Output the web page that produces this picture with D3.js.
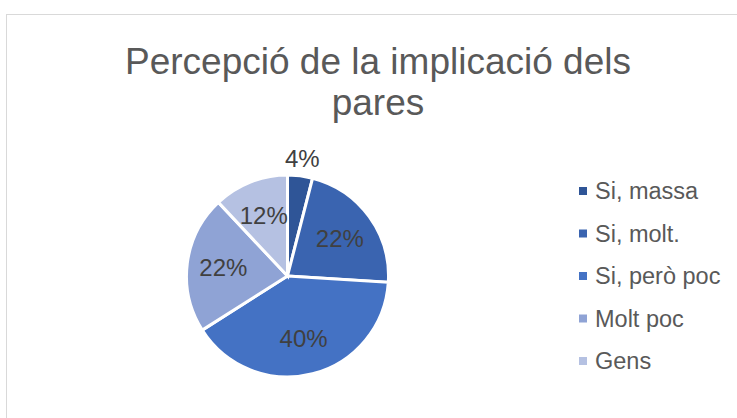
<!DOCTYPE html>
<html>
<head>
<meta charset="utf-8">
<script src="https://cdn.jsdelivr.net/npm/d3@7"></script>
<style>
  body { margin: 0; background: #fff; }
  svg { display: block; font-family: "Liberation Sans", Arial, sans-serif; }
</style>
</head>
<body>
<svg id="chart"></svg>
<script>
// chart data
var categories = ['Si, massa', 'Si, molt.', 'Si, però poc', 'Molt poc', 'Gens']
var values = [4, 22, 40, 22, 12]
var colors = ['#2f5597', '#3a64b0', '#4472c4', '#8fa3d5', '#b5c1e2']
var titleLines = ['Percepció de la implicació dels', 'pares']

var width = 737, height = 418
var cx = 287.5, cy = 276, radius = 101

var svg = d3.select('svg#chart')
    .attr('width', width)
    .attr('height', height)

// chart frame
svg.append('rect')
    .attr('x', 6.5).attr('y', 14.5)
    .attr('width', width + 10).attr('height', height + 10)
    .attr('fill', '#fff')
    .attr('stroke', '#d9d9d9')
    .attr('stroke-width', 1)

// title
svg.append('text')
    .attr('x', 378)
    .attr('text-anchor', 'middle')
    .attr('fill', '#595959')
    .style('font-size', '37px')
  .selectAll('tspan')
  .data(titleLines)
  .join('tspan')
    .attr('x', 378)
    .attr('y', (d, i) => 74 + i * 41)
    .text(d => d)

var data = categories.map((c, i) => ({ name: c, value: values[i], color: colors[i] }))

var pie = d3.pie()
    .value(d => d.value)
    .sort(null)

var arcs = pie(data)
var total = d3.sum(values)

var arc = d3.arc().innerRadius(0).outerRadius(radius)
var labelArc = d3.arc().innerRadius(radius * 0.64).outerRadius(radius * 0.64)
var outerArc = d3.arc().innerRadius(radius + 17).outerRadius(radius + 17)

var g = svg.append('g').attr('transform', `translate(${cx},${cy})`)

g.selectAll('path')
  .data(arcs)
  .join('path')
    .attr('d', arc)
    .attr('fill', d => d.data.color)
    .attr('stroke', '#fff')
    .attr('stroke-width', 3)
    .attr('stroke-linejoin', 'miter')

g.selectAll('text.lbl')
  .data(arcs)
  .join('text')
    .attr('class', 'lbl')
    .attr('transform', d => {
      // small slices get their label outside
      var p = d.data.value / total < 0.08 ? outerArc.centroid(d) : labelArc.centroid(d)
      return `translate(${p})`
    })
    .attr('text-anchor', 'middle')
    .attr('dominant-baseline', 'central')
    .attr('fill', '#404040')
    .style('font-size', '24px')
    .text(d => Math.round(d.data.value / total * 100) + '%')

// legend
var legend = svg.append('g').attr('transform', 'translate(579,191)')

var item = legend.selectAll('g')
  .data(data)
  .join('g')
    .attr('transform', (d, i) => `translate(0,${i * 42.5})`)

item.append('rect')
    .attr('x', 0).attr('y', -4)
    .attr('width', 8).attr('height', 8)
    .attr('fill', d => d.color)

item.append('text')
    .attr('x', 16)
    .attr('dominant-baseline', 'central')
    .attr('fill', '#595959')
    .style('font-size', '23.5px')
    .text(d => d.name)
</script>
</body>
</html>
